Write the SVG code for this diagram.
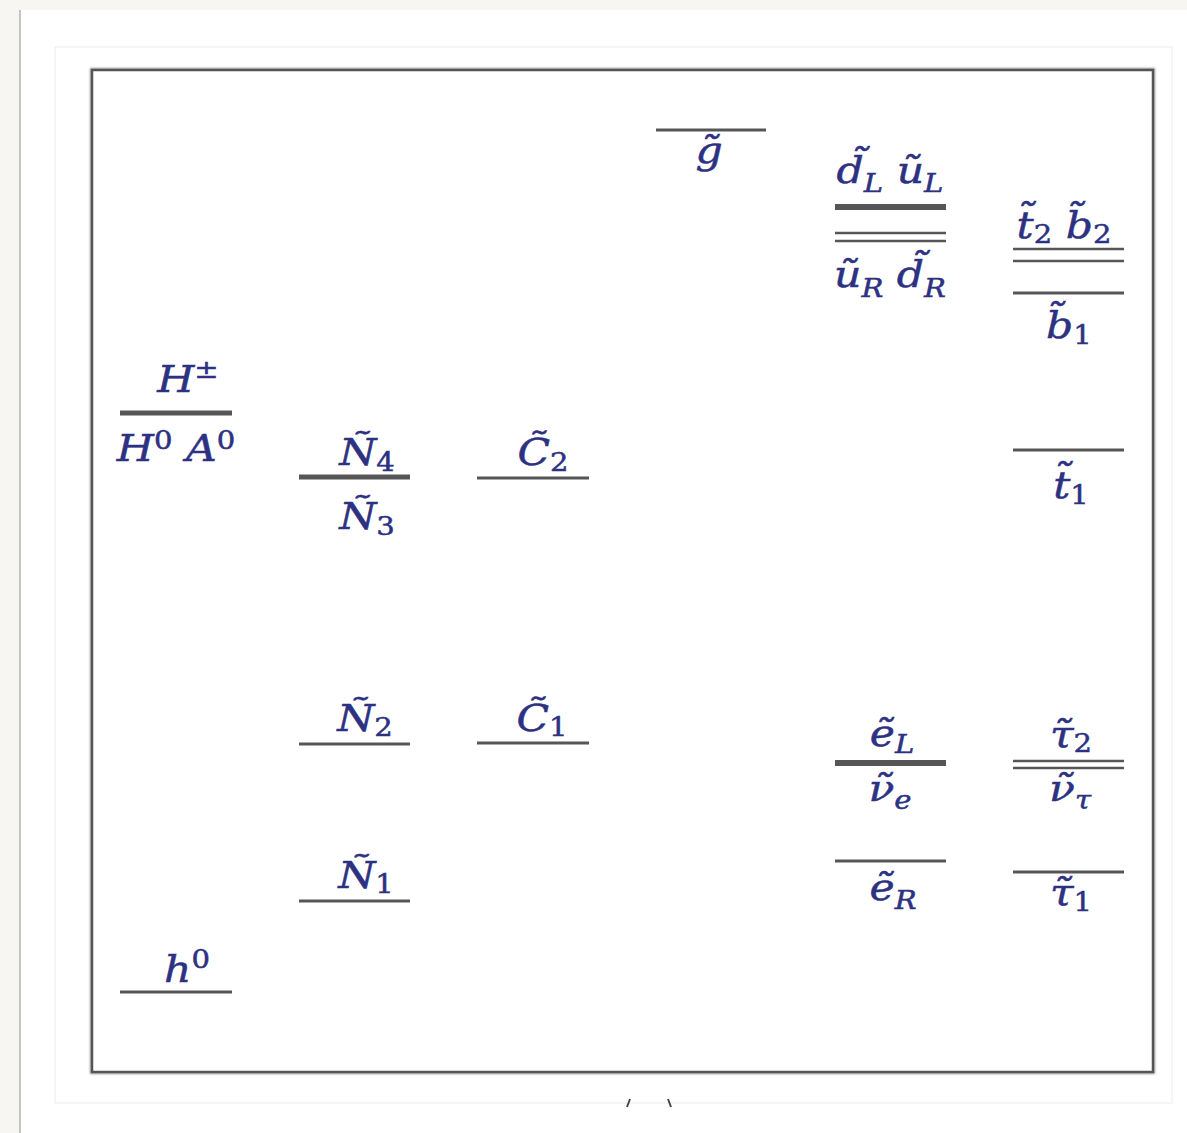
<svg xmlns="http://www.w3.org/2000/svg" width="1187" height="1133" viewBox="0 0 1187 1133">
<defs>
<style>
.lv{stroke:#565656;stroke-width:3;fill:none}
.thick{stroke-width:6}
.dbl{stroke-width:2.5}
.lb{font-family:"DejaVu Serif","Liberation Serif",serif;font-style:italic;font-size:38px;fill:#2d3182;stroke:#2d3182;stroke-width:0.5;text-anchor:middle}
.rm{font-style:normal}
.s{font-size:26px}
</style>
<filter id="sh" x="-5%" y="-5%" width="110%" height="110%"><feGaussianBlur stdDeviation="1"/></filter>
</defs>
<rect x="0" y="0" width="1187" height="1133" fill="#f7f6f3"/>
<rect x="20" y="10" width="1167" height="1123" fill="#ffffff"/>
<line x1="20" y1="10" x2="20" y2="1133" stroke="#c4c4c4" stroke-width="2"/>
<rect x="55" y="47" width="1117" height="1056" fill="#ffffff" stroke="#ececec" stroke-width="1"/>
<rect x="92" y="70" width="1061" height="1002" fill="none" stroke="#9a9a9a" stroke-width="4" filter="url(#sh)"/>
<rect x="92" y="70" width="1061" height="1002" fill="#ffffff" stroke="#555555" stroke-width="2.5"/>
<g id="caption-fragment" stroke="#444" stroke-width="2" fill="none">
<path d="M630 1099 L627 1107"/>
<path d="M668 1099 L671 1107"/>
</g>
<g id="connectors"/>
<g id="gluino">
<line class="lv" x1="656" y1="130" x2="766" y2="130"/>
<text class="lb" transform="translate(709 163) scale(1.12 1)">g̃</text>
</g>
<g id="squarks-LR">
<text class="lb" transform="translate(890 183) scale(1.12 1)">d̃<tspan class="s" dy="9">L</tspan><tspan dy="-9"> ũ</tspan><tspan class="s" dy="9">L</tspan></text>
<line class="lv thick" x1="835" y1="207" x2="946" y2="207"/>
<line class="lv dbl" x1="835" y1="233" x2="946" y2="233"/>
<line class="lv dbl" x1="835" y1="241" x2="946" y2="241"/>
<text class="lb" transform="translate(890 287) scale(1.12 1)">ũ<tspan class="s" dy="10">R</tspan><tspan dy="-10"> d̃</tspan><tspan class="s" dy="10">R</tspan></text>
</g>
<g id="stop2-sbottom">
<text class="lb" transform="translate(1064 238) scale(1.12 1)">t̃<tspan class="s rm" dy="5">2</tspan><tspan dy="-5"> b̃</tspan><tspan class="s rm" dy="5">2</tspan></text>
<line class="lv dbl" x1="1013" y1="249" x2="1124" y2="249"/>
<line class="lv dbl" x1="1013" y1="261" x2="1124" y2="261"/>
<line class="lv" x1="1013" y1="293" x2="1124" y2="293"/>
<text class="lb" transform="translate(1069 338) scale(1.12 1)">b̃<tspan class="s rm" dy="6">1</tspan></text>
</g>
<g id="heavy-higgs">
<text class="lb" transform="translate(188 392) scale(1.12 1)">H<tspan class="s rm" dy="-14">±</tspan></text>
<line class="lv" style="stroke-width:5" x1="120" y1="413" x2="232" y2="413"/>
<text class="lb" transform="translate(176 461) scale(1.12 1)">H<tspan class="s rm" dy="-12">0</tspan><tspan dy="12"> A</tspan><tspan class="s rm" dy="-12">0</tspan></text>
</g>
<g id="neutralino-34">
<text class="lb" transform="translate(367 465) scale(1.12 1)">Ñ<tspan class="s rm" dy="6">4</tspan></text>
<line class="lv" style="stroke-width:5" x1="299" y1="477" x2="410" y2="477"/>
<text class="lb" transform="translate(367 529) scale(1.12 1)">Ñ<tspan class="s rm" dy="6">3</tspan></text>
</g>
<g id="chargino-2">
<text class="lb" transform="translate(543 465) scale(1.12 1)">C̃<tspan class="s rm" dy="6">2</tspan></text>
<line class="lv" x1="477" y1="478" x2="589" y2="478"/>
</g>
<g id="stop-1">
<line class="lv" x1="1013" y1="450" x2="1124" y2="450"/>
<text class="lb" transform="translate(1071 498) scale(1.12 1)">t̃<tspan class="s rm" dy="6">1</tspan></text>
</g>
<g id="neutralino-2">
<text class="lb" transform="translate(365 731) scale(1.12 1)">Ñ<tspan class="s rm" dy="5">2</tspan></text>
<line class="lv" x1="299" y1="744" x2="410" y2="744"/>
</g>
<g id="chargino-1">
<text class="lb" transform="translate(542 731) scale(1.12 1)">C̃<tspan class="s rm" dy="5">1</tspan></text>
<line class="lv" x1="477" y1="743" x2="589" y2="743"/>
</g>
<g id="selectron-L">
<text class="lb" transform="translate(892 746) scale(1.12 1)">ẽ<tspan class="s" dy="7">L</tspan></text>
<line class="lv thick" x1="835" y1="763" x2="946" y2="763"/>
<text class="lb" transform="translate(890 801) scale(1.12 1)">ν̃<tspan class="s" dy="8">e</tspan></text>
</g>
<g id="stau-2">
<text class="lb" transform="translate(1071 747) scale(1.12 1)">τ̃<tspan class="s rm" dy="5">2</tspan></text>
<line class="lv dbl" x1="1013" y1="761" x2="1124" y2="761"/>
<line class="lv dbl" x1="1013" y1="768" x2="1124" y2="768"/>
<text class="lb" transform="translate(1070 801) scale(1.12 1)">ν̃<tspan class="s" dy="8">τ</tspan></text>
</g>
<g id="selectron-R">
<line class="lv" x1="835" y1="861" x2="946" y2="861"/>
<text class="lb" transform="translate(893 900) scale(1.12 1)">ẽ<tspan class="s" dy="9">R</tspan></text>
</g>
<g id="stau-1">
<line class="lv" x1="1013" y1="872" x2="1124" y2="872"/>
<text class="lb" transform="translate(1071 905) scale(1.12 1)">τ̃<tspan class="s rm" dy="6">1</tspan></text>
</g>
<g id="neutralino-1">
<text class="lb" transform="translate(366 888) scale(1.12 1)">Ñ<tspan class="s rm" dy="5">1</tspan></text>
<line class="lv" x1="299" y1="901" x2="410" y2="901"/>
</g>
<g id="light-higgs">
<text class="lb" transform="translate(187 982) scale(1.12 1)">h<tspan class="s rm" dy="-14">0</tspan></text>
<line class="lv" x1="120" y1="992" x2="232" y2="992"/>
</g>
</svg>
